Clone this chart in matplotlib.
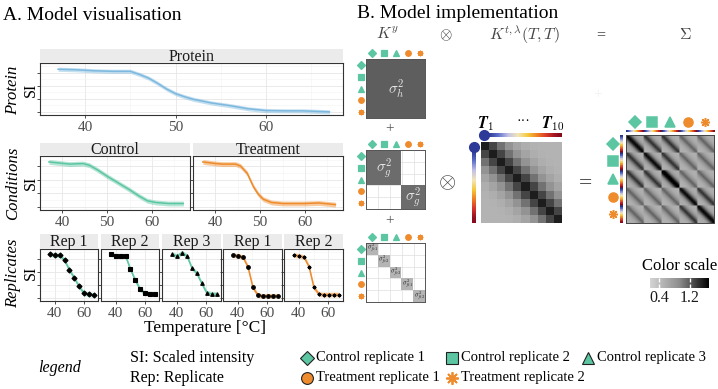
import numpy as np
import matplotlib
matplotlib.use('Agg')
import matplotlib.pyplot as plt
from matplotlib.colors import ListedColormap, LinearSegmentedColormap, Normalize
from matplotlib.cm import ScalarMappable

plt.rcParams['font.family'] = 'serif'
plt.rcParams['font.serif'] = ['Liberation Serif', 'DejaVu Serif']
plt.rcParams['mathtext.fontset'] = 'cm'

# ---- data (SI, scaled so panel bottom=0, top=1) ----
protein_t = [37, 39, 41, 43, 45, 46, 47, 48, 49, 50, 51, 52, 54, 56, 58, 60, 62, 64, 67]
protein_si = [0.88, 0.87, 0.85, 0.84, 0.84, 0.78, 0.71, 0.61, 0.50, 0.41, 0.35, 0.30,
              0.23, 0.18, 0.12, 0.085, 0.08, 0.08, 0.06]

control_t = [37, 41.6, 44.6, 46, 47.9, 50.1, 52.3, 54.9, 57.1, 59, 60.8, 63.7, 67]
control_si = [0.89, 0.85, 0.86, 0.83, 0.74, 0.62, 0.51, 0.38, 0.26, 0.17, 0.14, 0.12, 0.12]
treat_t = [37.2, 40.1, 41.6, 44.5, 45.6, 47.1, 48.5, 49.6, 50.7, 52.5, 55.1, 59.8, 63.1, 66.8]
treat_si = [0.89, 0.86, 0.85, 0.85, 0.815, 0.68, 0.43, 0.29, 0.20, 0.14, 0.12, 0.12, 0.13, 0.10]

rep_temps = [37, 40.3, 43.7, 47, 50.3, 53.7, 57, 60.3, 63.7, 67]
ctrl_rep1 = [0.90, 0.88, 0.88, 0.78, 0.60, 0.44, 0.28, 0.15, 0.13, 0.115]
ctrl_rep2 = [0.90, 0.87, 0.87, 0.865, 0.61, 0.40, 0.225, 0.15, 0.14, 0.135]
ctrl_rep3 = [0.90, 0.865, 0.93, 0.865, 0.635, 0.53, 0.34, 0.16, 0.135, 0.135]
trt_rep1 = [0.88, 0.87, 0.84, 0.65, 0.26, 0.11, 0.10, 0.10, 0.10, 0.10]
trt_rep2 = [0.88, 0.87, 0.84, 0.66, 0.26, 0.13, 0.125, 0.125, 0.125, 0.125]

rep_names = ['Control replicate 1', 'Control replicate 2', 'Control replicate 3',
             'Treatment replicate 1', 'Treatment replicate 2']
rep_strips = ['Rep 1', 'Rep 2', 'Rep 3', 'Rep 1', 'Rep 2']
rep_group = [0, 0, 0, 1, 1]
rep_markers = ['D', 's', '^', 'o', (8, 2, 0)]

# covariance parts
sigma_h2 = 0.6
sigma_g2 = 0.25
sigma_f2 = [0.3, 0.25, 0.45, 0.25, 0.3]
sigma_f_labels = [r'$\sigma^2_{fc1}$', r'$\sigma^2_{fc2}$', r'$\sigma^2_{fc3}$',
                  r'$\sigma^2_{ft1}$', r'$\sigma^2_{ft2}$']
kt_row = [1.0, 0.8, 0.58, 0.38, 0.22, 0.12, 0.08, 0.07, 0.07, 0.07]
colorscale_ticks = [0.4, 1.2]

TEAL = '#5cc6a2'
ORANGE = '#ee8b2c'
BLUE = '#7db9de'
group_cols = [TEAL, ORANGE]
rep_cols = [group_cols[g] for g in rep_group]

W, H = 718, 389
fig = plt.figure(figsize=(W / 100, H / 100), dpi=100)


def rect(l, t, r, b):
    return [l / W, 1 - b / H, (r - l) / W, (b - t) / H]


def style_panel(ax, xmajor=(40, 50, 60), xminor=(35, 45, 55, 65)):
    ax.set_xlim(35.5, 68.5)
    ax.set_ylim(0, 1)
    ax.set_xticks(xmajor)
    ax.set_xticks(xminor, minor=True)
    ax.set_yticks([0.06, 0.31, 0.56, 0.81])
    ax.set_yticks([0.185, 0.435, 0.685, 0.935], minor=True)
    ax.set_axisbelow(True)
    ax.grid(which='major', color='#e6e6e6', lw=0.6)
    ax.grid(which='minor', color='#f3f3f3', lw=0.4)
    ax.tick_params(which='minor', length=0)
    ax.tick_params(axis='y', labelleft=False, length=2.5, width=0.6, color='#333333')
    ax.tick_params(axis='x', length=2.5, width=0.6, color='#333333',
                   labelcolor='#4d4d4d', labelsize=11, pad=1.5)
    for s in ax.spines.values():
        s.set_color('#333333')
        s.set_linewidth(0.8)


def strip(l, t, r, b, label):
    s = fig.add_axes(rect(l, t, r, b))
    s.set_facecolor('#ebebeb')
    s.set_xticks([])
    s.set_yticks([])
    for sp in s.spines.values():
        sp.set_visible(False)
    s.text(0.5, 0.45, label, ha='center', va='center', fontsize=11.5, color='#1a1a1a',
           transform=s.transAxes)


def curve(ax, t, v, col, band=0.045):
    v = np.asarray(v)
    ax.fill_between(t, v - band, v + band, color=col, alpha=0.45, lw=0, zorder=2)
    ax.plot(t, v, color=col, lw=1.1, zorder=3)


# ---- Panel A ----
ax = fig.add_axes(rect(40, 63, 343, 115))
strip(40, 49, 343, 63, 'Protein')
curve(ax, protein_t, protein_si, BLUE, 0.04)
style_panel(ax)

for (l, r), lab, t, v, c in [((40, 190), 'Control', control_t, control_si, TEAL),
                             ((193, 343), 'Treatment', treat_t, treat_si, ORANGE)]:
    ax = fig.add_axes(rect(l, 156, r, 210))
    strip(l, 143, r, 156, lab)
    curve(ax, t, v, c)
    style_panel(ax)

rep_values = [ctrl_rep1, ctrl_rep2, ctrl_rep3, trt_rep1, trt_rep2]
rep_x = [(40, 98), (101, 159), (162, 221), (223, 282), (284, 343)]
for i, (l, r) in enumerate(rep_x):
    ax = fig.add_axes(rect(l, 249, r, 301))
    strip(l, 234, r, 249, rep_strips[i])
    curve(ax, rep_temps, rep_values[i], rep_cols[i], 0.045)
    ax.plot(rep_temps, rep_values[i], ls='none', marker=rep_markers[i], color='black',
            ms=2.6, mew=0.8, zorder=4)
    style_panel(ax, xmajor=(40, 60), xminor=(30, 50, 70))

# ---- Panel B ----
Ky = sigma_h2 * np.ones((5, 5)) + sigma_g2 * np.equal.outer(rep_group, rep_group) + np.diag(sigma_f2)
lag = np.abs(np.subtract.outer(np.arange(len(kt_row)), np.arange(len(kt_row))))
Kt = np.asarray(kt_row)[lag]
Sigma = np.kron(Ky, Kt)

gray_cmap = LinearSegmentedColormap.from_list('g', ['#d4d4d4', '#8c8c8c', '#000000'])
temp_cmap = LinearSegmentedColormap.from_list(
    't', ['#28358c', '#5c6fc8', '#c3c0e6', '#f3e6b8', '#f6c83a', '#ee7a22', '#d2302a', '#860a1c'])


def ky_axes(t, b, mask, fill, labels):
    a = fig.add_axes(rect(366, t, 426, b))
    cm = ListedColormap([fill])
    cm.set_bad((1, 1, 1, 0))
    a.imshow(np.where(mask > 0, 1.0, np.nan), cmap=cm, vmin=0, vmax=1, zorder=2,
             extent=(-0.5, 4.5, 4.5, -0.5))
    a.set_xticks(np.arange(-0.5, 5, 1))
    a.set_yticks(np.arange(-0.5, 5, 1))
    a.tick_params(length=0, labelbottom=False, labelleft=False)
    a.grid(color='#dedede', lw=0.5, zorder=0)
    a.set_axisbelow(True)
    for sp in a.spines.values():
        sp.set_color('#555555')
        sp.set_linewidth(0.7)
    for (x, y, s, fs, c) in labels:
        a.text(x, y, s, ha='center', va='center', fontsize=fs, color=c, zorder=3)
    for i in range(5):
        a.plot((i + 0.5) / 5, 1.1, marker=rep_markers[i], color=rep_cols[i], ms=4, mew=0.9,
               transform=a.transAxes, clip_on=False)
        a.plot(-0.1, 1 - (i + 0.5) / 5, marker=rep_markers[i], color=rep_cols[i], ms=4, mew=0.9,
               transform=a.transAxes, clip_on=False)
    return a


ky_axes(59, 118, np.ones((5, 5)), '#5e5e5e', [(2, 2, r'$\sigma^2_h$', 11, '#e6e6e6')])
g_mask = np.equal.outer(rep_group, rep_group).astype(float)
g_labels = []
for g in sorted(set(rep_group)):
    c = np.mean([i for i, gg in enumerate(rep_group) if gg == g])
    g_labels.append((c, c, r'$\sigma^2_g$', 11, '#e6e6e6'))
ky_axes(150, 209, g_mask, '#6c6c6c', g_labels)
ky_axes(243, 302, np.eye(5), '#b4b4b4',
        [(i, i, sigma_f_labels[i], 4.5, '#222222') for i in range(5)])

# K^t matrix
akt = fig.add_axes(rect(481, 142, 562, 223))
akt.imshow(Kt, cmap=gray_cmap, vmin=-0.25, vmax=1.15, interpolation='nearest', aspect='auto')
akt.set_xticks([])
akt.set_yticks([])
for sp in akt.spines.values():
    sp.set_visible(False)

temp_idx = np.arange(len(rep_temps))
hbar = fig.add_axes(rect(484, 133, 562, 137))
hbar.imshow(temp_idx[None, :], cmap=temp_cmap, aspect='auto', interpolation='bicubic')
vbar = fig.add_axes(rect(472, 147, 476, 223))
vbar.imshow(temp_idx[:, None], cmap=temp_cmap, aspect='auto', interpolation='bicubic')

# Sigma matrix
asg = fig.add_axes(rect(626, 135, 714, 223))
asg.imshow(Sigma, cmap=gray_cmap, vmin=-0.3, vmax=1.05, interpolation='bilinear', aspect='auto')
asg.set_xticks([])
asg.set_yticks([])
for sp in asg.spines.values():
    sp.set_color('#444444')
    sp.set_linewidth(0.7)
for i in range(5):
    asg.plot((i + 0.5) / 5, 1.148, marker=rep_markers[i], color=rep_cols[i], ms=6.5, mew=1.1,
             transform=asg.transAxes, clip_on=False)
    asg.plot(-0.148, 1 - (i + 0.5) / 5, marker=rep_markers[i], color=rep_cols[i], ms=6.5, mew=1.1,
             transform=asg.transAxes, clip_on=False)
rep_tile = np.tile(temp_idx, 5)
sbar_h = fig.add_axes(rect(626, 129.5, 714, 132))
sbar_h.imshow(rep_tile[None, :], cmap=temp_cmap, aspect='auto')
sbar_v = fig.add_axes(rect(620, 135, 622.5, 223))
sbar_v.imshow(rep_tile[:, None], cmap=temp_cmap, aspect='auto')
for b in (hbar, vbar, sbar_h, sbar_v):
    b.axis('off')

# colour scale
cax = fig.add_axes(rect(650, 278, 709, 288))
cb = fig.colorbar(ScalarMappable(norm=Normalize(0.17, 1.69), cmap=gray_cmap), cax=cax,
                  orientation='horizontal', ticks=colorscale_ticks)
cb.outline.set_visible(False)
cax.xaxis.set_ticks_position('both')
cax.tick_params(length=3, width=1, color='white', direction='in', labelsize=11.5, pad=1.5,
                labelcolor='#1a1a1a', labeltop=False)

# ---- free text / legend overlay ----
ov = fig.add_axes([0, 0, 1, 1])
ov.set_xlim(0, W)
ov.set_ylim(H, 0)
ov.axis('off')

ov.text(3, 15, 'A. Model visualisation', fontsize=14, va='center', ha='left')
ov.text(357, 13, 'B. Model implementation', fontsize=14, va='center', ha='left')
for y, lab in [(90, 'Protein'), (183, 'Conditions'), (273, 'Replicates')]:
    ov.text(13, y, lab, rotation=90, style='italic', fontsize=12, ha='center', va='center')
    ov.text(31, y, 'SI', rotation=90, fontsize=11.5, ha='center', va='center')
ov.text(205, 328, 'Temperature [°C]', fontsize=12.5, ha='center', va='center')

hdr = dict(fontsize=11.5, color='#444444', ha='center', va='center')
ov.text(387, 35, r'$K^{y}$', **hdr)
ov.text(446, 35, r'$\otimes$', **hdr)
ov.text(524, 35, r'$K^{t,\lambda}(T,T)$', **hdr)
ov.text(601, 35, '=', **hdr)
ov.text(685, 35, r'$\Sigma$', **hdr)
ov.text(390, 129, '+', fontsize=11, color='#555555', ha='center', va='center')
ov.text(390, 221, '+', fontsize=11, color='#555555', ha='center', va='center')
ov.text(598, 95, '+', fontsize=11, color='#f0f0f0', ha='center', va='center')
ov.text(447, 184, r'$\otimes$', fontsize=16, color='#444444', ha='center', va='center')
ov.text(586, 184, '=', fontsize=17, color='#444444', ha='center', va='center')
ov.text(486, 124, r'$\mathbfit{T}_{\mathbf{1}}$', fontsize=11.5, ha='center', va='center')
ov.text(553, 124, r'$\mathbfit{T}_{\mathbf{10}}$', fontsize=11.5, ha='center', va='center')
ov.text(523, 121, '···', fontsize=10, ha='center', va='center')
ov.plot([484, 474], [135, 147], ls='none', marker='o', ms=7, color='#2e3a97')
ov.text(680, 266, 'Color scale', fontsize=12, ha='center', va='center')

ov.text(60, 368, 'legend', style='italic', fontsize=11.5, ha='center', va='center')
ov.text(130, 358, 'SI: Scaled intensity', fontsize=11.5, ha='left', va='center')
ov.text(130, 378, 'Rep: Replicate', fontsize=11.5, ha='left', va='center')
leg_pos = [(307, 358), (452, 358), (588, 358), (307, 378), (452, 378)]
leg_ms = [7, 8, 8, 8.5, 9]
for i, (x, y) in enumerate(leg_pos):
    if i == 4:
        ov.plot(x, y, marker=rep_markers[i], ms=leg_ms[i], color=rep_cols[i], mew=1.3)
    else:
        ov.plot(x, y, marker=rep_markers[i], ms=leg_ms[i], color=rep_cols[i],
                mec='#222222', mew=0.8)
    ov.text(x + 9, y, rep_names[i], fontsize=10.5, ha='left', va='center')

fig.savefig('out.png', dpi=100)
